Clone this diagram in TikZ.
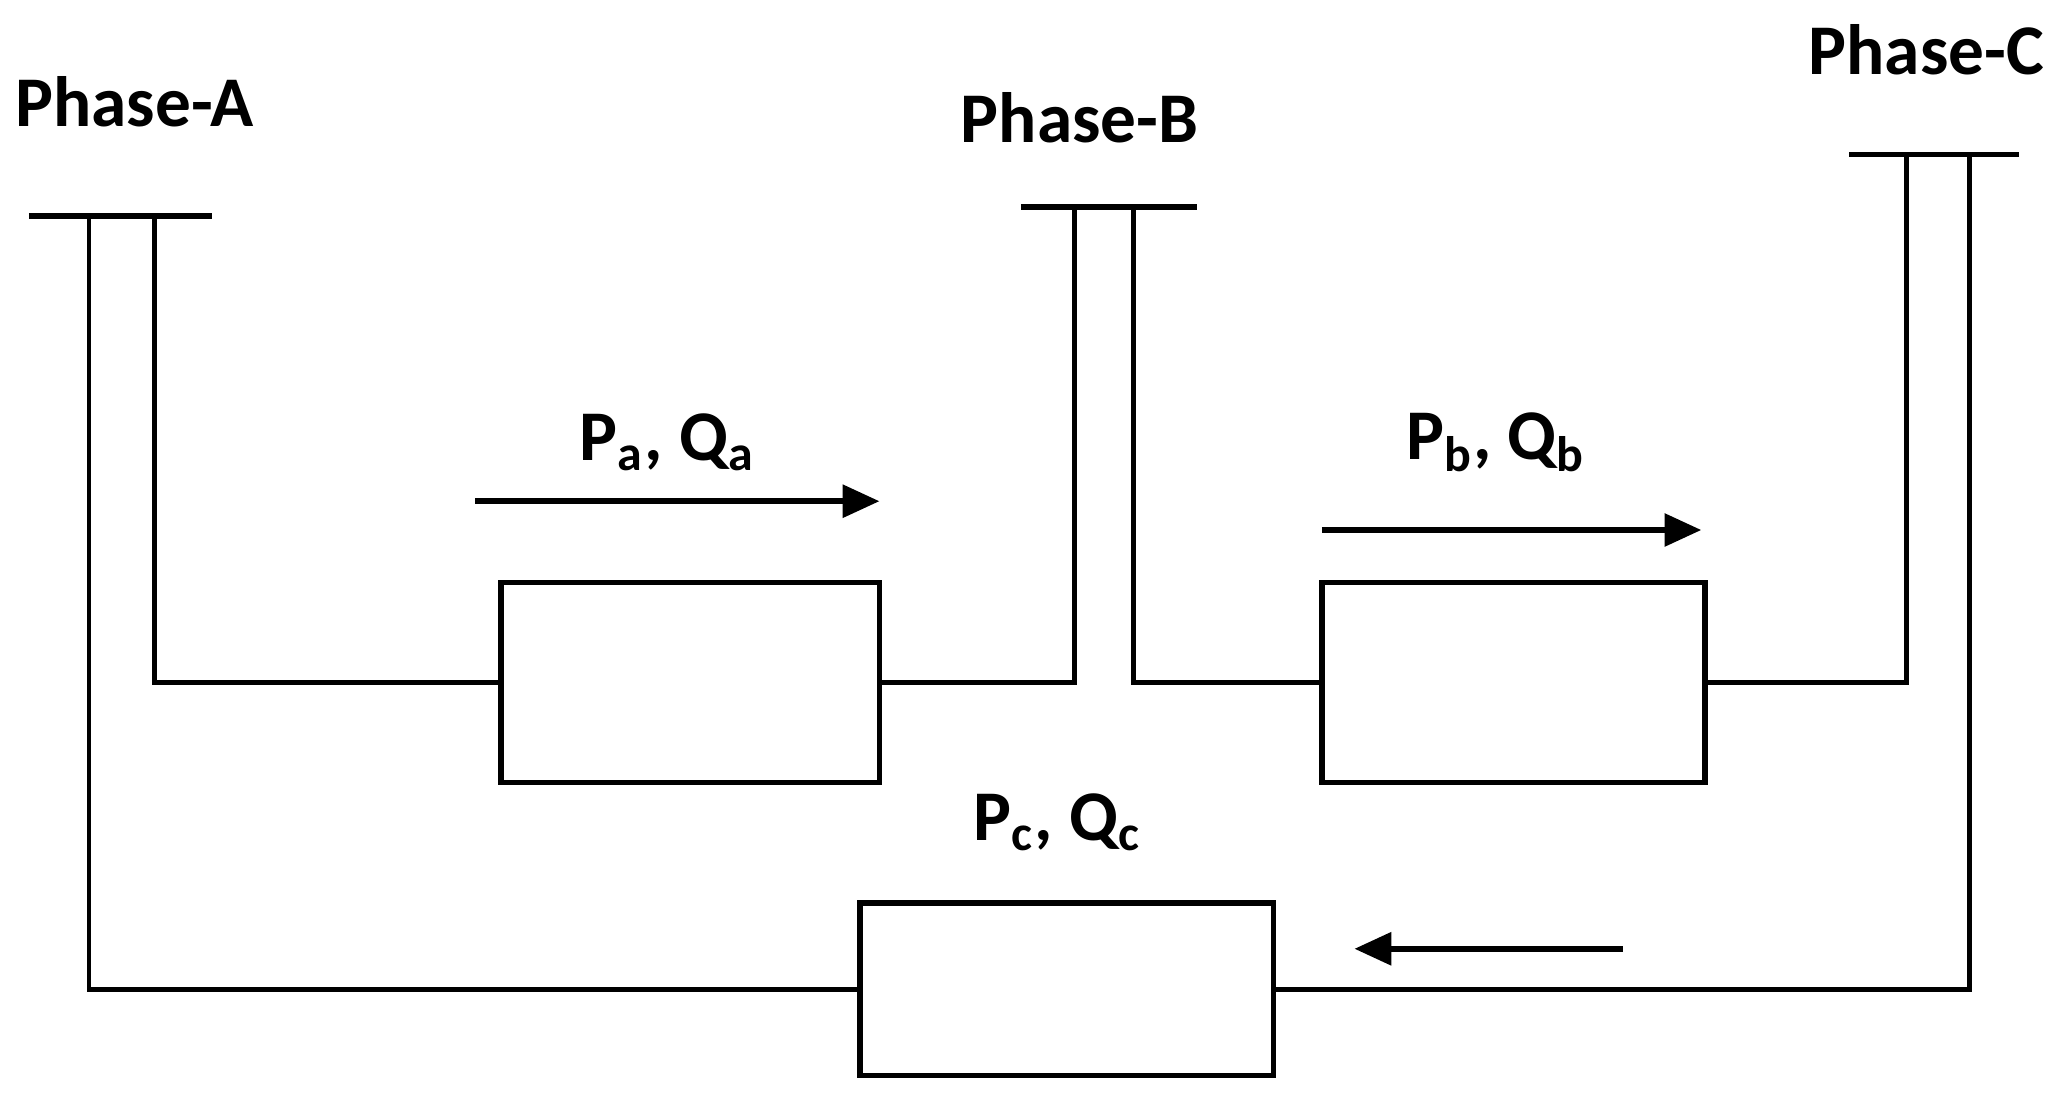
\documentclass[tikz,border=0pt]{standalone}
\usepackage{fontspec}
\setmainfont{Carlito}
\usetikzlibrary{arrows.meta}
\tikzset{
  bus/.style={line width=1.2pt},
  wire/.style={line width=1pt},
  block/.style={draw, line width=1.2pt, inner sep=0pt},
  flow/.style={line width=1.2pt, -{Triangle[length=8pt,width=7pt]}},
  lbl/.style={font=\fontsize{15.5}{18}\selectfont\bfseries}
}
\begin{document}
\begin{tikzpicture}[x=1cm,y=-1cm]
\useasboundingbox (0,0) rectangle (15.68,8.41);
% BUSES
\coordinate (aL) at (0.22,1.65); \coordinate (aR) at (1.62,1.65);
\coordinate (bL) at (7.80,1.58); \coordinate (bR) at (9.15,1.58);
\coordinate (cL) at (14.13,1.18); \coordinate (cR) at (15.43,1.18);
\draw[bus] (aL) -- (aR);
\draw[bus] (bL) -- (bR);
\draw[bus] (cL) -- (cR);
\node[lbl] (ta) at (1.03,0.78) {Phase-A};
\node[lbl] (tb) at (8.25,0.90) {Phase-B};
\node[lbl] (tc) at (14.72,0.38) {Phase-C};
% BLOCKS
\node[block, minimum width=2.89cm, minimum height=1.53cm] (za) at (5.275,5.215) {};
\node[block, minimum width=2.93cm, minimum height=1.53cm] (zb) at (11.565,5.215) {};
\node[block, minimum width=3.16cm, minimum height=1.32cm] (zc) at (8.15,7.56) {};
% WIRES
\draw[wire] (1.18,1.65) |- (za.west);
\draw[wire] (za.east) -| (8.21,1.58);
\draw[wire] (8.66,1.58) |- (zb.west);
\draw[wire] (zb.east) -| (14.57,1.18);
\draw[wire] (0.68,1.65) |- (zc.west);
\draw[wire] (zc.east) -| (15.05,1.18);
% FLOWS
\coordinate (fa1) at (3.63,3.83); \coordinate (fa2) at (6.72,3.83);
\coordinate (fb1) at (10.10,4.05); \coordinate (fb2) at (13.00,4.05);
\coordinate (fc1) at (12.40,7.25); \coordinate (fc2) at (10.35,7.25);
\draw[flow] (fa1) -- (fa2);
\draw[flow] (fb1) -- (fb2);
\draw[flow] (fc1) -- (fc2);
\node[lbl] (la) at (5.10,3.38) {P\textsubscript{a}, Q\textsubscript{a}};
\node[lbl] (lb) at (11.43,3.38) {P\textsubscript{b}, Q\textsubscript{b}};
\node[lbl] (lc) at (8.08,6.28) {P\textsubscript{c}, Q\textsubscript{c}};
\end{tikzpicture}
\end{document}
